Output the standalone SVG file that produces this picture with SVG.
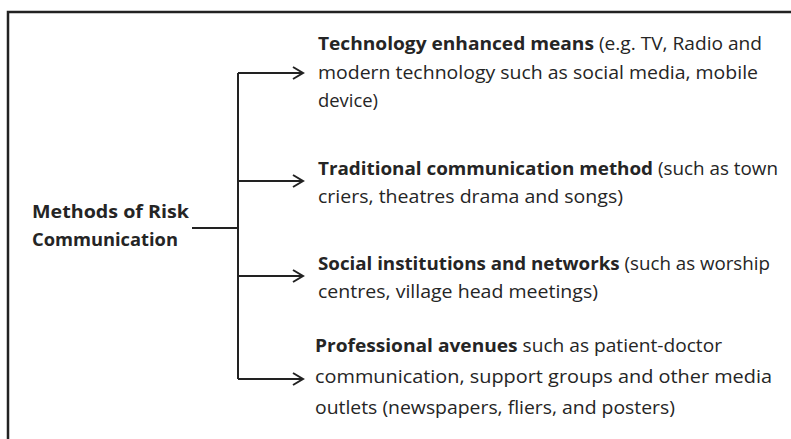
<svg xmlns="http://www.w3.org/2000/svg" width="791" height="439" viewBox="0 0 791 439">
<defs>
<style>
text{font-family:"Open Sans","Noto Sans","Liberation Sans",sans-serif;font-size:18px;fill:#252525;}
.b{font-weight:bold;}
.ln{stroke:#222;stroke-width:2;fill:none;}
.frame{stroke:#222;stroke-width:2.5;fill:none;}
</style>
<marker id="ah" markerWidth="14" markerHeight="14" refX="12" refY="7" orient="auto" markerUnits="userSpaceOnUse">
<path d="M2,1 L12,7 L2,13" fill="none" stroke="#222" stroke-width="2"/>
</marker>
</defs>
<rect width="791" height="439" fill="#fff"/>
<path class="frame" d="M8,439 V12 H791"/>
<g id="connectors">
<path class="ln" d="M192,228 H238"/>
<path class="ln" d="M238,73 V379"/>
<path class="ln" d="M238,73 H303" marker-end="url(#ah)"/>
<path class="ln" d="M238,181 H303" marker-end="url(#ah)"/>
<path class="ln" d="M238,276 H303" marker-end="url(#ah)"/>
<path class="ln" d="M238,379 H303" marker-end="url(#ah)"/>
</g>
<g id="root">
<text class="b" x="32" y="218" textLength="157" lengthAdjust="spacingAndGlyphs">Methods of  Risk</text>
<text class="b" x="32" y="246" textLength="146" lengthAdjust="spacingAndGlyphs">Communication</text>
</g>
<g id="technology">
<text x="318" y="50" textLength="444" lengthAdjust="spacingAndGlyphs"><tspan class="b">Technology enhanced means</tspan> (e.g. TV, Radio  and</text>
<text x="318" y="79" textLength="440" lengthAdjust="spacingAndGlyphs">modern technology  such  as social  media,  mobile</text>
<text x="318" y="107" textLength="60" lengthAdjust="spacingAndGlyphs">device)</text>
</g>
<g id="traditional">
<text x="318" y="175" textLength="460" lengthAdjust="spacingAndGlyphs"><tspan class="b">Traditional communication  method</tspan> (such  as town</text>
<text x="318" y="203" textLength="305" lengthAdjust="spacingAndGlyphs">criers, theatres drama and  songs)</text>
</g>
<g id="social">
<text x="318" y="270" textLength="452" lengthAdjust="spacingAndGlyphs"><tspan class="b">Social institutions and networks</tspan> (such  as worship</text>
<text x="318" y="298" textLength="280" lengthAdjust="spacingAndGlyphs">centres, village head meetings)</text>
</g>
<g id="professional">
<text x="315" y="352" textLength="407" lengthAdjust="spacingAndGlyphs"><tspan class="b">Professional avenues</tspan> such  as  patient-doctor</text>
<text x="315" y="383" textLength="457" lengthAdjust="spacingAndGlyphs">communication,  support  groups and  other media</text>
<text x="315" y="414" textLength="360" lengthAdjust="spacingAndGlyphs">outlets (newspapers,  fliers, and posters)</text>
</g>
</svg>
